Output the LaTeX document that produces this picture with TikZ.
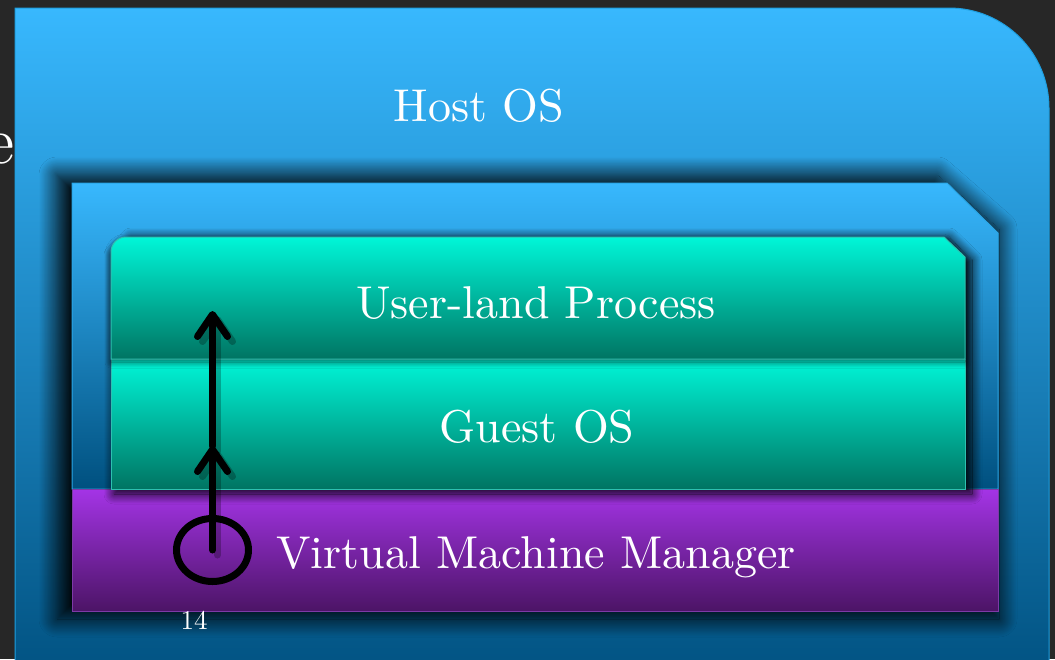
\documentclass[tikz,border=0pt]{standalone}
\usepackage{fontspec}
\setmainfont{lmroman10-regular.otf}
\usetikzlibrary{arrows.meta,positioning,shapes.geometric,shadows.blur}

\definecolor{slidebg}{HTML}{272727}
\definecolor{hosttop}{HTML}{38B8FE}
\definecolor{hostmid}{HTML}{0A9AE4}
\definecolor{hostbot}{HTML}{00507F}
\definecolor{hostedge}{HTML}{1E9FE0}
\definecolor{vmedge}{HTML}{2AA6E6}
\definecolor{tealtop}{HTML}{00F6D8}
\definecolor{tealmid}{HTML}{00B8A0}
\definecolor{tealbot}{HTML}{007462}
\definecolor{tealedge}{HTML}{2EC0B0}
\definecolor{vmmtop}{HTML}{A434E6}
\definecolor{vmmmid}{HTML}{8A2AC0}
\definecolor{vmmbot}{HTML}{4C1466}
\definecolor{vmmedge}{HTML}{7D3AA6}

\tikzset{
	layer text/.style={text=white, inner sep=0pt, anchor=base, font=\fontsize{46}{50}\selectfont},
	flow/.style={line width=7pt, line cap=round, -{Straight Barb[length=22pt, width=30pt, round]}},
	ringmark/.style={draw=black, line width=7pt, ellipse, inner sep=0pt, minimum width=72pt, minimum height=63pt},
	soft shadow/.style={blur shadow={shadow blur steps=30, #1}}
}

\begin{document}
\begin{tikzpicture}[x=1pt, y=-1pt]
	\useasboundingbox (0,0) rectangle (1055,659);
	\clip (0,0) rectangle (1055,659);
	\fill[slidebg] (0,0) rectangle (1055,659);
	\node[text=white, inner sep=0pt, anchor=base east, font=\fontsize{66}{66}\selectfont] (title) at (15,163) {e};

	% host OS panel, rounded at the top right
	\shade[top color=hosttop, middle color=hostmid, bottom color=hostbot, draw=hostedge, line width=1pt]
		(15,690) -- (15,8) -- (949,8) arc[start angle=-90, end angle=0, radius=100] -- (1049,690) -- cycle;

	% virtual machine block
	\path[soft shadow={shadow xshift=-7pt, shadow yshift=0pt, shadow blur radius=18pt, shadow opacity=100}]
		(64,619) -- (64,175) -- (944,175) -- (1006,229) -- (1006,619) -- cycle;
	\shade[top color=hosttop, middle color=hostmid, bottom color=hostbot, draw=vmedge, line width=1pt]
		(72,489) -- (72,183) -- (947,183) -- (998,233) -- (998,489) -- cycle;
	\shade[top color=vmmtop, middle color=vmmmid, bottom color=vmmbot, draw=vmmedge, line width=1pt]
		(72,489) rectangle (998,611);

	% guest layers
	\path[soft shadow={shadow xshift=5pt, shadow yshift=-3pt, shadow blur radius=10pt, shadow opacity=100}]
		(109,491) -- (109,252) -- (126,235) -- (944,235) -- (967,257) -- (967,491) -- cycle;
	\shade[top color=tealtop, middle color=tealmid, bottom color=tealbot, draw=tealedge, line width=1pt]
		(111,359) rectangle (965,489);
	\shade[top color=tealtop, middle color=tealmid, bottom color=tealbot, draw=tealedge, line width=1pt,
		soft shadow={shadow xshift=0pt, shadow yshift=-3pt, shadow blur radius=6pt, shadow opacity=60}]
		(111,359) -- (111,252) arc[start angle=180, end angle=270, radius=15] -- (944,237) -- (965,257) -- (965,359) -- cycle;

	\node[layer text] (host) at (479,121) {Host OS};
	\node[layer text] (userland) at (536,318) {User-land Process};
	\node[layer text] (guest) at (537,442) {Guest OS};
	\node[layer text] (vmm) at (536,568) {Virtual Machine Manager};
	\node[text=white, inner sep=0pt, anchor=base, font=\fontsize{27}{30}\selectfont] (pagenum) at (194,629) {14};

	% trap path up through the layers
	\node[ringmark] (ring) at (212.5,550) {};
	\coordinate (guesttip) at (212.5,446);
	\coordinate (usertip) at (212.5,311);
	\draw[flow, black, opacity=0.25, transform canvas={xshift=5pt, yshift=-5pt}] (ring.center) -- (guesttip);
	\draw[flow, black, opacity=0.25, transform canvas={xshift=5pt, yshift=-5pt}] (guesttip) -- (usertip);
	\draw[flow] (ring.center) -- (guesttip);
	\draw[flow] (guesttip) -- (usertip);
\end{tikzpicture}
\end{document}
